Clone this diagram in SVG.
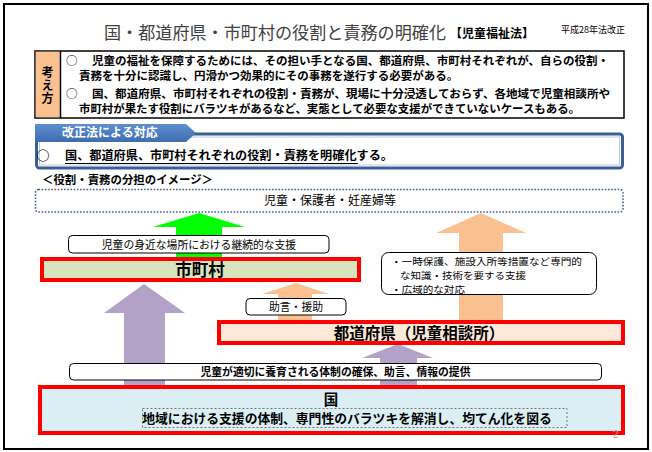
<svg xmlns="http://www.w3.org/2000/svg" width="652" height="452" viewBox="0 0 652 452">
<defs>
<linearGradient id="tabg" x1="0" y1="0" x2="0" y2="1">
<stop offset="0" stop-color="#5f8fcf"/>
<stop offset="1" stop-color="#3e6cb0"/>
</linearGradient>
</defs>
<style>
text{font-family:"Noto Sans CJK JP","Noto Sans CJK SC",sans-serif;fill:#000}
.b{font-weight:bold}
.lbl{fill:#fff;stroke:#000;stroke-width:1}
.red{stroke:#ff0000;stroke-width:4}
.c{text-anchor:middle}
</style>
<rect x="4" y="4" width="644" height="445" fill="#fff" stroke="#000" stroke-width="2"/>

<g id="title">
<text x="104" y="39" font-size="17" style="fill:#404040" textLength="342" lengthAdjust="spacingAndGlyphs">国・都道府県・市町村の役割と責務の明確化</text>
<text x="450" y="38" font-size="12" class="b">【児童福祉法】</text>
<text x="561" y="33" font-size="9">平成28年法改正</text>
</g>

<g id="kangaekata">
<rect x="35" y="51" width="589" height="67" fill="#fff" stroke="#000" stroke-width="1.5"/>
<rect x="35.75" y="51.75" width="24.5" height="65.5" fill="#fac090"/>
<line x1="60.5" y1="51" x2="60.5" y2="118" stroke="#000" stroke-width="1.5"/>
<text x="47.5" y="66" font-size="12" class="b" writing-mode="vertical-rl" letter-spacing="1">考え方</text>
<text x="66" y="65" font-size="11.5">○</text>
<text x="92" y="65" font-size="11.5" class="b" textLength="517" lengthAdjust="spacingAndGlyphs">児童の福祉を保障するためには、その担い手となる国、都道府県、市町村それぞれが、自らの役割・</text>
<text x="79" y="80" font-size="11.5" class="b">責務を十分に認識し、円滑かつ効果的にその事務を遂行する必要がある。</text>
<text x="66" y="98" font-size="11.5">○</text>
<text x="92" y="98" font-size="11.5" class="b" textLength="518" lengthAdjust="spacingAndGlyphs">国、都道府県、市町村それぞれの役割・責務が、現場に十分浸透しておらず、各地域で児童相談所や</text>
<text x="79" y="113" font-size="11.5" class="b" textLength="501" lengthAdjust="spacingAndGlyphs">市町村が果たす役割にバラツキがあるなど、実態として必要な支援ができていないケースもある。</text>
</g>

<g id="kaiseihou">
<rect x="36.5" y="134" width="586" height="34" rx="3" fill="#fff" stroke="#3b5f95" stroke-width="3"/>
<rect x="39.5" y="137" width="580" height="28" fill="none" stroke="#b8cce4" stroke-width="1"/>
<polygon points="35,124 186,124 196,133 186,142 35,142" fill="url(#tabg)"/>
<text x="62" y="137" font-size="12" class="b" style="fill:#fff">改正法による対応</text>
<text x="43" y="160" font-size="13" class="b c">○</text>
<text x="65" y="160" font-size="12" class="b" textLength="328" lengthAdjust="spacingAndGlyphs">国、都道府県、市町村それぞれの役割・責務を明確化する。</text>
<line x1="65" y1="163.5" x2="358" y2="163.5" stroke="#000" stroke-width="1"/>
</g>

<g id="image-heading">
<text x="42" y="184" font-size="11.5" class="b" textLength="171" lengthAdjust="spacingAndGlyphs">＜役割・責務の分担のイメージ＞</text>
</g>

<g id="connectors">
<polygon id="arrow-green" points="199,213 245,227 222,227 222,259 176,259 176,227 153,227" fill="#00ff00"/>
<polygon id="arrow-orange-big" points="481,213 526,233 503,233 503,322 459,322 459,233 436,233" fill="#fac090"/>
<polygon id="arrow-purple-big" points="144,284 185,313 165,313 165,387 124,387 124,313 104,313" fill="#b3a2c7"/>
<polygon id="arrow-orange-small" points="296,283 329,294 312,294 312,322 278,322 278,294 262,294" fill="#fac090"/>
<polygon id="arrow-purple-small" points="398,344 433,358 417,358 417,387 380,387 380,358 362,358" fill="#b3a2c7"/>
</g>

<g id="recipients">
<rect x="35.5" y="189.5" width="587.5" height="22.5" rx="3" fill="#fff" stroke="#44628f" stroke-width="1.6" stroke-dasharray="1.6 1.6"/>
<text x="330" y="205" font-size="12" class="c">児童・保護者・妊産婦等</text>
</g>

<g id="label-shichoson-support">
<rect x="68.5" y="235.5" width="260.5" height="17.5" rx="4" class="lbl"/>
<text x="199" y="248.5" font-size="10.8" class="c">児童の身近な場所における継続的な支援</text>
</g>

<g id="shichoson">
<rect x="42" y="259" width="317" height="21" fill="#d7e4bd" class="red"/>
<text x="200" y="276" font-size="16.5" class="b c">市町村</text>
</g>

<g id="label-todofuken-support">
<rect x="381.5" y="252.5" width="215" height="42" rx="7" class="lbl"/>
<text x="391" y="264.5" font-size="9.5" textLength="191" lengthAdjust="spacingAndGlyphs">・一時保護、施設入所等措置など専門的</text>
<text x="400" y="278.5" font-size="9.5" textLength="126" lengthAdjust="spacingAndGlyphs">な知識・技術を要する支援</text>
<text x="391" y="292.5" font-size="9.5" textLength="74" lengthAdjust="spacingAndGlyphs">・広域的な対応</text>
</g>

<g id="label-jogen">
<rect x="246" y="298.5" width="100" height="16.5" rx="4" class="lbl"/>
<text x="296" y="311" font-size="10.8" class="c">助言・援助</text>
</g>

<g id="todofuken">
<rect x="219" y="322" width="404" height="21" fill="#fde9d9" class="red"/>
<text x="419" y="339" font-size="15.5" class="b c">都道府県（児童相談所）</text>
</g>

<g id="label-kuni-support">
<rect x="69.5" y="363.5" width="532" height="16.5" rx="4" class="lbl"/>
<text x="335.5" y="376" font-size="10.8" class="b c">児童が適切に養育される体制の確保、助言、情報の提供</text>
</g>

<g id="kuni">
<rect x="40" y="387" width="583" height="46" fill="#dbeef4" class="red"/>
<text x="331" y="405" font-size="14.5" class="b c">国</text>
<rect x="142.5" y="408.5" width="424.5" height="19" fill="none" stroke="#555" stroke-width="0.8" stroke-dasharray="2 2"/>
<text x="347" y="422.5" font-size="12.8" class="b c">地域における支援の体制、専門性のバラツキを解消し、均てん化を図る</text>
</g>

<g id="page-number">
<text x="613" y="438" font-size="10" style="fill:#a6a6a6;font-family:'Liberation Sans',sans-serif">2</text>
</g>
</svg>
